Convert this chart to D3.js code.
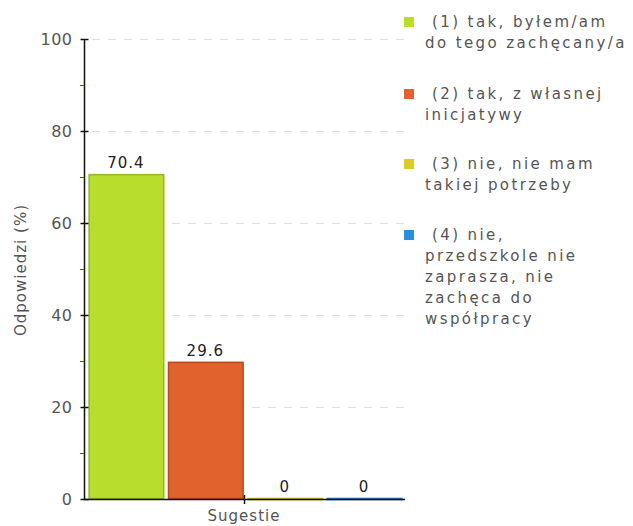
<!DOCTYPE html>
<html>
<head>
<meta charset="utf-8">
<script src="https://cdn.jsdelivr.net/npm/d3@7"></script>
<style>
  body { margin: 0; background: #fff; }
  text { font-family: "DejaVu Sans", sans-serif; }
</style>
</head>
<body>
<div id="myChart"></div>
<script>
let width = 633;
let height = 526;

// data
const categories = [
  "(1) tak, byłem/am\ndo tego zachęcany/a",
  "(2) tak, z własnej\ninicjatywy",
  "(3) nie, nie mam\ntakiej potrzeby",
  "(4) nie,\nprzedszkole nie\nzaprasza, nie\nzachęca do\nwspółpracy"
];
const values = [70.4, 29.6, 0, 0];
const colors = ["#b9dd2d", "#e0622d", "#ddcc22", "#2a8ee0"];
const strokes = ["#94b81c", "#c0461a", "#c8b414", "#1c6fc0"];
const yTicks = [0, 20, 40, 60, 80, 100];
const yMinorTicks = [10, 30, 50, 70, 90];
const groupLabel = "Sugestie";

let svg = d3.select("#myChart").append("svg")
  .attr("width", width)
  .attr("height", height)

var y = d3.scaleLinear().domain([0, 100]).range([499, 39]);
var x = d3.scaleBand()
  .domain(d3.range(values.length))
  .range([87, 403])
  .paddingInner(0.06)
  .paddingOuter(0.02);

// grid lines
svg.append("g")
  .selectAll("line")
  .data(yTicks.slice(1))
  .enter()
  .append("line")
  .attr("x1", 92)
  .attr("x2", 405)
  .attr("y1", d => y(d) + 0.5)
  .attr("y2", d => y(d) + 0.5)
  .attr("stroke", "#dddddd")
  .attr("stroke-dasharray", "8,8");

// bars
svg.append("g")
  .selectAll("rect")
  .data(values)
  .enter()
  .append("rect")
  .attr("x", (d, i) => x(i) + 0.5)
  .attr("y", d => y(d) - 0.5)
  .attr("width", x.bandwidth())
  .attr("height", d => Math.max(y(0) - y(d), 1))
  .attr("fill", (d, i) => colors[i])
  .attr("stroke", (d, i) => strokes[i])
  .attr("stroke-width", 1.5);

// value labels
svg.append("g")
  .selectAll("text")
  .data(values)
  .enter()
  .append("text")
  .attr("x", (d, i) => x(i) + x.bandwidth() / 2)
  .attr("y", d => y(d) - 7)
  .attr("text-anchor", "middle")
  .attr("font-size", 15)
  .attr("letter-spacing", 1)
  .attr("fill", "#222")
  .text(d => d);

// y axis
let yAxis = svg.append("g")
  .attr("transform", "translate(84.5,0)")
  .call(d3.axisLeft(y).tickValues(yTicks).tickSize(4).tickPadding(8));
yAxis.select(".domain").attr("stroke", "#111").attr("stroke-width", 1.5).attr("d", "M0," + y(100) + "V" + y(0));
yAxis.selectAll(".tick line").attr("x2", -4).attr("x1", 4).attr("stroke", "#111").attr("stroke-width", 1.5);
yAxis.selectAll(".tick text")
  .attr("font-size", 16)
  .attr("letter-spacing", 0.5)
  .attr("fill", "#555")
  .attr("font-family", "DejaVu Sans");

svg.append("g")
  .selectAll("line")
  .data(yMinorTicks)
  .enter()
  .append("line")
  .attr("x1", 80)
  .attr("x2", 84)
  .attr("y1", d => y(d) + 0.5)
  .attr("y2", d => y(d) + 0.5)
  .attr("stroke", "#ff0000")
  .attr("stroke-width", 1.5)
  .attr("shape-rendering", "crispEdges");

// x axis
svg.append("line")
  .attr("x1", 84).attr("x2", 405)
  .attr("y1", y(0) + 0.5).attr("y2", y(0) + 0.5)
  .attr("stroke", "#111").attr("stroke-width", 1.5);
svg.append("line")
  .attr("x1", 244.5).attr("x2", 244.5)
  .attr("y1", y(0) - 4).attr("y2", y(0) + 5)
  .attr("stroke", "#111").attr("stroke-width", 1.5);

svg.append("text")
  .attr("x", 244)
  .attr("y", 521)
  .attr("text-anchor", "middle")
  .attr("font-size", 15)
  .attr("letter-spacing", 1)
  .attr("fill", "#555")
  .text(groupLabel);

svg.append("text")
  .attr("transform", "translate(26,270) rotate(-90)")
  .attr("text-anchor", "middle")
  .attr("font-size", 15)
  .attr("letter-spacing", 1)
  .attr("fill", "#555")
  .text("Odpowiedzi (%)");

// legend
const legendTop = [22, 94, 164, 235];
let legend = svg.append("g")
  .selectAll("g")
  .data(categories)
  .enter()
  .append("g")
  .attr("transform", (d, i) => "translate(404," + legendTop[i] + ")");

legend.append("rect")
  .attr("x", 0).attr("y", -5)
  .attr("width", 10).attr("height", 10)
  .attr("fill", (d, i) => colors[i]);

legend.append("text")
  .attr("font-size", 15)
  .attr("letter-spacing", 2.4)
  .attr("fill", "#555")
  .selectAll("tspan")
  .data(d => d.split("\n"))
  .enter()
  .append("tspan")
  .attr("x", (d, i) => i == 0 ? 28 : 21)
  .attr("y", (d, i) => 5 + i * 21)
  .text(d => d);
</script>
</body>
</html>
